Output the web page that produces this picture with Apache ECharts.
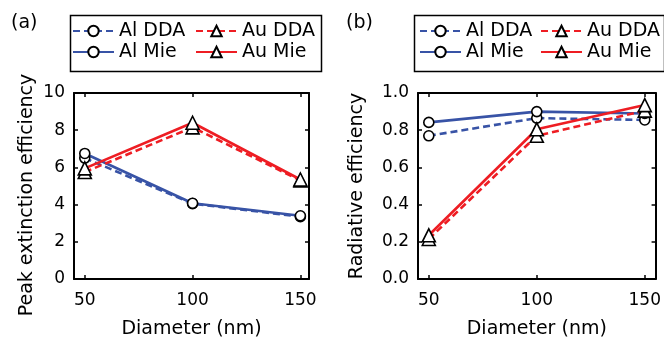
<!DOCTYPE html>
<html><head><meta charset="utf-8">
<script src="https://cdn.jsdelivr.net/npm/echarts@6/dist/echarts.min.js"></script>
<style>html,body{margin:0;padding:0;background:#fff}#c{width:664px;height:344px}</style>
</head><body><div id="c"></div>
<script>
const diameters = [50, 100, 150];
const xTicks = [50, 100, 150];
// Panel (a): peak extinction efficiency
const aAlDDA = [6.5, 4.05, 3.35];
const aAlMie = [6.75, 4.07, 3.4];
const aAuDDA = [5.75, 8.15, 5.3];
const aAuMie = [5.95, 8.4, 5.35];
// Panel (b): radiative efficiency
const bAlDDA = [0.77, 0.865, 0.855];
const bAlMie = [0.842, 0.9, 0.89];
const bAuDDA = [0.215, 0.77, 0.905];
const bAuMie = [0.235, 0.805, 0.935];
const alNames = ['Al DDA', 'Al Mie'];
const auNames = ['Au DDA', 'Au Mie'];

const BLUE = '#3853a6', RED = '#ee1d23';
const FONT = 'DejaVu Sans';
const pts = v => diameters.map((d, i) => [d, v[i]]);

function mk(name, vals, g) {
  const isAl = name.startsWith('Al');
  const dashed = name.endsWith('DDA');
  return {
    type: 'line', name, xAxisIndex: g * 2, yAxisIndex: g * 2,
    data: pts(vals),
    symbol: isAl ? 'circle' : 'triangle',
    symbolSize: isAl ? 10 : 13,
    showAllSymbol: true,
    itemStyle: { color: '#fff', borderColor: '#000', borderWidth: 1.6 },
    lineStyle: { color: isAl ? BLUE : RED, width: 2.6, type: dashed ? [7, 4] : 'solid' },
    emphasis: { disabled: true },
    animation: false
  };
}

function xAx(g, top) {
  return {
    type: 'value', gridIndex: g, min: 45, max: g === 0 ? 154 : 155,
    position: top ? 'top' : 'bottom',
    splitLine: { show: false },
    axisLine: { show: true, onZero: false, lineStyle: { color: '#000', width: 2 } },
    axisTick: { show: true, inside: true, length: 4, customValues: xTicks, lineStyle: { color: '#000', width: 1.5 } },
    axisLabel: { show: !top, customValues: xTicks, margin: 13, color: '#000', fontSize: 17, fontFamily: FONT },
    name: top ? '' : 'Diameter (nm)', nameLocation: 'middle', nameGap: 41,
    nameTextStyle: { color: '#000', fontSize: 19, fontFamily: FONT }
  };
}
function yAx(g, right, name, max, interval, fmt, gap, pad) {
  return {
    type: 'value', gridIndex: g, min: 0, max, interval,
    position: right ? 'right' : 'left',
    splitLine: { show: false },
    axisLine: { show: true, onZero: false, lineStyle: { color: '#000', width: 2 } },
    axisTick: { show: true, inside: true, length: 4, lineStyle: { color: '#000', width: 1.5 } },
    axisLabel: { show: !right, margin: 9, color: '#000', fontSize: 17, fontFamily: FONT, formatter: fmt },
    name: right ? '' : name, nameLocation: 'middle', nameGap: gap,
    nameTextStyle: { color: '#000', fontSize: 19, fontFamily: FONT, padding: pad }
  };
}
function legend(left, data) {
  return {
    orient: 'vertical', left, top: 21.5,
    itemWidth: 41, itemHeight: 13, itemGap: 2, padding: 0,
    textStyle: { color: '#000', fontSize: 19, fontFamily: FONT },
    data, selectedMode: false, z: 5
  };
}

const chart = echarts.init(document.getElementById('c'), null, { renderer: 'canvas' });
chart.setOption({
  animation: false,
  backgroundColor: '#fff',
  grid: [
    { left: 74, right: 355, top: 93, bottom: 65 },
    { left: 418, right: 8, top: 93, bottom: 65 }
  ],
  xAxis: [xAx(0, false), xAx(0, true), xAx(1, false), xAx(1, true)],
  yAxis: [
    yAx(0, false, 'Peak extinction efficiency', 10, 2, v => String(v), 37, [0, 18, 0, 0]),
    yAx(0, true, '', 10, 2, v => String(v), 0, 0),
    yAx(1, false, 'Radiative efficiency', 1, 0.2, v => v.toFixed(1), 51, 0),
    yAx(1, true, '', 1, 0.2, v => v.toFixed(1), 0, 0)
  ],
  legend: [legend(72, alNames), legend(195, auNames), legend(419, alNames), legend(540, auNames)],
  graphic: [
    { type: 'rect', left: 68, top: 13, shape: { width: 251, height: 56 }, style: { fill: 'none', stroke: '#000', lineWidth: 1.5 }, z: 4 },
    { type: 'rect', left: 412, top: 13, shape: { width: 250, height: 56 }, style: { fill: 'none', stroke: '#000', lineWidth: 1.5 }, z: 4 }
  ],
  title: [
    { text: '(a)', left: 11, top: 14, textStyle: { color: '#000', fontSize: 19, fontWeight: 'normal', fontFamily: FONT }, padding: 0 },
    { text: '(b)', left: 346, top: 14, textStyle: { color: '#000', fontSize: 19, fontWeight: 'normal', fontFamily: FONT }, padding: 0 }
  ],
  series: [
    mk('Al DDA', aAlDDA, 0), mk('Al Mie', aAlMie, 0), mk('Au DDA', aAuDDA, 0), mk('Au Mie', aAuMie, 0),
    mk('Al DDA', bAlDDA, 1), mk('Al Mie', bAlMie, 1), mk('Au DDA', bAuDDA, 1), mk('Au Mie', bAuMie, 1)
  ]
});
</script></body></html>
